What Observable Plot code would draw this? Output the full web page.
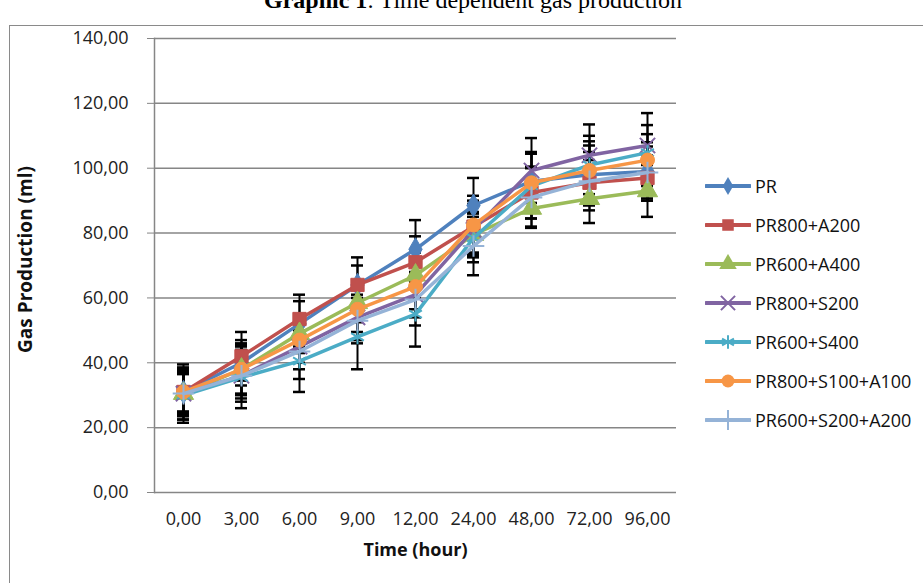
<!DOCTYPE html>
<html>
<head>
<meta charset="utf-8">
<script src="https://cdn.jsdelivr.net/npm/d3@7"></script>
<script src="https://cdn.jsdelivr.net/npm/@observablehq/plot@0.6"></script>
<style>
  html, body { margin: 0; padding: 0; background: #fff; }
  #wrap { position: relative; width: 923px; height: 583px; overflow: hidden; background: #fff; }
  #title { position: absolute; left: 0; width: 946px; top: -13px; text-align: center;
           font-family: "Liberation Serif", "DejaVu Serif", serif; font-size: 24px; color: #000; white-space: nowrap; }
  #border { position: absolute; left: 9px; top: 25px; width: 1000px; height: 700px;
            border: 1.5px solid #8a8a8a; box-sizing: border-box; }
  #chart { position: absolute; left: 0; top: 0; }
  #legend { position: absolute; left: 705px; top: 166px; font-family: "Open Sans", sans-serif;
            font-size: 18px; color: #111; }
  .item { display: flex; align-items: center; height: 39px; }
  .item svg { margin-right: 4px; }
</style>
</head>
<body>
<div id="wrap">
  <div id="border"></div>
  <div id="title"><b>Graphic 1</b>: Time dependent gas production</div>
  <div id="chart"></div>
  <div id="legend"></div>
</div>
<script>
const times = ["0,00","3,00","6,00","9,00","12,00","24,00","48,00","72,00","96,00"];
const seriesNames = ["PR","PR800+A200","PR600+A400","PR800+S200","PR600+S400","PR800+S100+A100","PR600+S200+A200"];
const colors = ["#4F81BD","#C0504D","#9BBB59","#8064A2","#4BACC6","#F79646","#95B3D7"];
const symbols = ["diamond","square","triangle","times","asterisk","circle","plus"];

const vPR        = [31, 40, 52, 64, 75, 88.5, 96, 98, 99];
const vPR800A200 = [31, 42, 53.5, 64, 71, 82, 92.5, 95.5, 97];
const vPR600A400 = [30.5, 38, 49, 58.5, 67, 79.5, 87.6, 90.6, 93];
const vPR800S200 = [30.5, 36, 45, 54, 61, 81, 99.3, 104, 107];
const vPR600S400 = [30, 35.5, 40.5, 48, 55, 78.5, 94.5, 101, 104.8];
const vPR800S100A100 = [31, 38, 47, 56.5, 63.5, 82.5, 95.5, 99.3, 102.5];
const vPR600S200A200 = [30.5, 36, 43.5, 53, 59.5, 76, 91, 96, 98.7];

const ePR        = [6, 7, 7, 6, 9, 8.5, 9, 9, 9];
const ePR800A200 = [8.5, 7.5, 7.5, 8.5, 8, 8, 8, 7, 7];
const ePR600A400 = [7, 7.5, 6, 6, 7, 7, 6, 7.5, 8];
const ePR800S200 = [8, 7, 7, 7, 7, 8, 10, 9.5, 10];
const ePR600S400 = [8.5, 9.5, 9.5, 10, 10, 7.5, 10, 9, 8.5];
const ePR800S100A100 = [7, 8, 7, 7, 7, 9, 9, 9, 8];
const ePR600S200A200 = [6, 8, 8.5, 7, 8, 9, 9, 9, 8];

const yTicks = [0, 20, 40, 60, 80, 100, 120, 140];

const values = [vPR, vPR800A200, vPR600A400, vPR800S200, vPR600S400, vPR800S100A100, vPR600S200A200];
const errors = [ePR, ePR800A200, ePR600A400, ePR800S200, ePR600S400, ePR800S100A100, ePR600S200A200];

const rows = [];
seriesNames.forEach((s, i) => times.forEach((t, j) => rows.push({series: s, idx: i, time: t, v: values[i][j], e: errors[i][j]})));

const fmt = d => d.toFixed(2).replace(".", ",");
const filled = new Set(["diamond","square","triangle","circle"]);

const marks = [
  Plot.gridY(yTicks, {stroke: "#868686", strokeOpacity: 1, strokeWidth: 1.5}),
  Plot.frame({anchor: "left", stroke: "#868686", strokeWidth: 1.5}),
  Plot.axisY(yTicks, {tickSize: 7, tickPadding: 19, tickFormat: fmt, stroke: "#868686", fontSize: 18, label: null,
    fontFamily: "Open Sans", fill: "#222"}),
  Plot.axisX({tickSize: 0, tickPadding: 20, fontSize: 18, label: null, fontFamily: "Open Sans", fill: "#222"}),
  Plot.text(["Time (hour)"], {frameAnchor: "bottom", dy: 63, fontWeight: "bold", fontSize: 18, fontFamily: "Open Sans", fill: "#111"}),
  Plot.text(["Gas Production (ml)"], {frameAnchor: "left", textAnchor: "middle", rotate: -90, dx: -129, dy: -6, fontWeight: "bold", fontSize: 19, fontFamily: "Open Sans", fill: "#111"}),
  Plot.ruleX(rows, {x: "time", y1: d => d.v - d.e, y2: d => d.v + d.e, stroke: "#000", strokeWidth: 2}),
  Plot.tickY(rows, {x: "time", y: d => d.v + d.e, stroke: "#000", strokeWidth: 2.5, insetLeft: 23, insetRight: 23}),
  Plot.tickY(rows, {x: "time", y: d => d.v - d.e, stroke: "#000", strokeWidth: 2.5, insetLeft: 23, insetRight: 23})
];

seriesNames.forEach((s, i) => {
  const data = rows.filter(d => d.series === s);
  marks.push(Plot.line(data, {x: "time", y: "v", stroke: colors[i], strokeWidth: 3.5}));
  const sym = symbols[i];
  if (filled.has(sym)) {
    marks.push(Plot.dot(data, {x: "time", y: "v", symbol: sym, fill: colors[i], stroke: colors[i], strokeWidth: 1,
      r: sym === "circle" ? 7 : sym === "diamond" ? 7 : 7.5}));
  } else {
    marks.push(Plot.dot(data, {x: "time", y: "v", symbol: sym, fill: "none", stroke: colors[i], strokeWidth: 2, r: 7}));
  }
});

const chart = Plot.plot({
  width: 923, height: 583,
  marginLeft: 154, marginRight: 247, marginTop: 38, marginBottom: 91,
  style: {background: "transparent", overflow: "visible"},
  x: {type: "band", domain: times, padding: 0, axis: null},
  y: {domain: [0, 140], axis: null},
  marks
});
document.getElementById("chart").appendChild(chart);

// legend
const legend = d3.select("#legend");
const symMap = {diamond: d3.symbolDiamond, square: d3.symbolSquare, triangle: d3.symbolTriangle,
  times: d3.symbolTimes, asterisk: d3.symbolAsterisk, circle: d3.symbolCircle, plus: d3.symbolPlus};
seriesNames.forEach((s, i) => {
  const item = legend.append("div").attr("class", "item");
  const svg = item.append("svg").attr("width", 46).attr("height", 20);
  svg.append("line").attr("x1", 1).attr("x2", 45).attr("y1", 10).attr("y2", 10)
     .attr("stroke", colors[i]).attr("stroke-width", 4).attr("stroke-linecap", "round");
  const sym = symbols[i];
  const r = sym === "diamond" ? 5.5 : 6.5;
  const path = d3.symbol(symMap[sym], Math.PI * r * r)();
  const p = svg.append("path").attr("d", path).attr("transform", "translate(23,10)");
  if (filled.has(sym)) p.attr("fill", colors[i]);
  else p.attr("fill", "none").attr("stroke", colors[i]).attr("stroke-width", 2);
  item.append("span").text(s);
});
</script>
</body>
</html>
